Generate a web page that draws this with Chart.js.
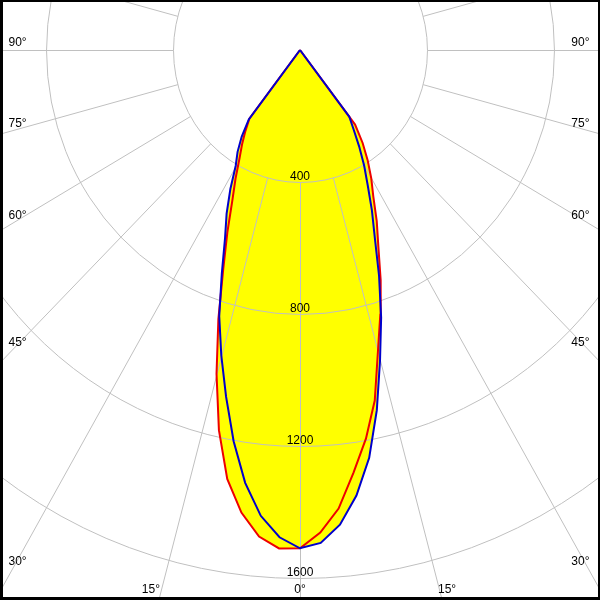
<!DOCTYPE html>
<html>
<head>
<meta charset="utf-8">
<script src="https://cdn.jsdelivr.net/npm/chart.js@4.4.0/dist/chart.umd.min.js"></script>
<style>
  body { margin: 0; background: #fff; }
  canvas { display: block; }
</style>
</head>
<body>
<canvas id="polar" width="600" height="600"></canvas>
<script>
// gamma angles in degrees, 0 = straight down
const gammaAngles = [0, 2.5, 5, 7.5, 10, 12.5, 15, 17.5, 20, 22.5, 25, 27.5, 30, 32.5, 35, 37.5, 40];

// C0-C180 plane (red), cd
const redLeft  = [1510, 1512, 1480, 1414, 1320, 1180, 1016, 855, 707, 598, 505, 440, 382, 340, 300, 262, 0];
const redRight = [1508, 1464, 1395, 1292, 1196, 1088, 948, 841, 743, 645, 572, 500, 449, 397, 344, 285, 0];

// C90-C270 plane (blue), cd
const blueLeft  = [1510, 1478, 1417, 1323, 1204, 1076, 958, 846, 720, 617, 547, 475, 405, 366, 320, 265, 0];
const blueRight = [1510, 1495, 1444, 1362, 1255, 1118, 974, 850, 728, 616, 536, 462, 404, 347, 295, 255, 0];

// grid
const ringValues = [400, 800, 1200, 1600];
const ringLabels = ['400', '800', '1200', '1600'];
const spokeAngles = [0, 15, 30, 45, 60, 75, 90];
const spokeStep = 15;

// visible range of the diagram (cd)
const X_HALF = 945;
const Y_TOP = 151.5;
const Y_BOTTOM = -1666.7;

const LABEL_FONT = '12px "Liberation Sans", Arial, sans-serif';

// polar -> cartesian, left half goes up from 40 to 0, right half back to 40
function planePoints(left, right) {
  let pts = [];
  for (let i = gammaAngles.length - 1; i >= 0; i--) {
    let a = gammaAngles[i] * Math.PI / 180;
    pts.push({x: -left[i] * Math.sin(a), y: -left[i] * Math.cos(a)});
  }
  for (let i = 1; i < gammaAngles.length; i++) {
    let a = gammaAngles[i] * Math.PI / 180;
    pts.push({x: right[i] * Math.sin(a), y: -right[i] * Math.cos(a)});
  }
  return pts;
}

function geometry(chart) {
  let x = chart.scales.x, y = chart.scales.y;
  let cx = x.getPixelForValue(0), cy = y.getPixelForValue(0);
  let kx = (x.getPixelForValue(1000) - cx) / 1000;
  let ky = (y.getPixelForValue(-1000) - cy) / 1000;
  return {cx, cy, kx, ky};
}

// rings and spokes, drawn over the yellow fill but under the curves
const gridPlugin = {
  id: 'polarGrid',
  beforeDatasetsDraw(chart) {
    let {ctx} = chart;
    let {cx, cy, kx, ky} = geometry(chart);
    ctx.save();
    ctx.translate(0.5, 0.5);
    ctx.strokeStyle = '#c0c0c0';
    ctx.lineWidth = 1;
    ringValues.forEach(r => {
      ctx.beginPath();
      ctx.ellipse(cx, cy, r * kx, r * ky, 0, 0, 2 * Math.PI);
      ctx.stroke();
    });
    for (let a = 0; a < 360; a += spokeStep) {
      let t = a * Math.PI / 180;
      let dx = Math.sin(t) * kx, dy = Math.cos(t) * ky;
      ctx.beginPath();
      ctx.moveTo(cx + ringValues[0] * dx, cy + ringValues[0] * dy);
      ctx.lineTo(cx + 4000 * dx, cy + 4000 * dy);
      ctx.stroke();
    }
    ctx.restore();
  }
};

const labelPlugin = {
  id: 'polarLabels',
  afterDatasetsDraw(chart) {
    let {ctx, chartArea} = chart;
    let {cx, cy, kx, ky} = geometry(chart);
    ctx.save();
    ctx.font = LABEL_FONT;
    ctx.fillStyle = '#000';
    ctx.textBaseline = 'alphabetic';

    // intensity values along the 0 line
    ctx.textAlign = 'center';
    ringValues.forEach((r, i) => {
      ctx.fillText(ringLabels[i], cx, cy + r * ky - 2);
    });

    // angle labels where the spokes leave the frame
    let bottom = chartArea.bottom - 3;
    spokeAngles.forEach(a => {
      let t = a * Math.PI / 180;
      let dx = Math.sin(t) * kx, dy = Math.cos(t) * ky;
      let txt = a + '°';
      if (a === 0) {
        ctx.textAlign = 'center';
        ctx.fillText(txt, cx, bottom - 4);
        return;
      }
      let off = dy > 0 ? (bottom - cy) / dy * dx : Infinity;
      if (off < cx - 3) {
        ctx.textAlign = 'right';
        ctx.fillText(txt, cx - off + 1, bottom - 4);
        ctx.textAlign = 'left';
        ctx.fillText(txt, cx + off - 3, bottom - 4);
      } else {
        let slope = dy / dx;
        let yy = cy + (cx - 8) * slope - (3.5 + 4 * slope);
        ctx.textAlign = 'left';
        ctx.fillText(txt, 8.5, yy);
        ctx.textAlign = 'right';
        ctx.fillText(txt, chartArea.right - 10.5, yy);
      }
    });
    ctx.restore();
  },
  afterDraw(chart) {
    let {ctx, width, height} = chart;
    ctx.save();
    ctx.fillStyle = '#000';
    ctx.fillRect(0, 0, width, 2);
    ctx.fillRect(0, 0, 3, height);
    ctx.fillRect(width - 2, 0, 2, height);
    ctx.fillRect(0, height - 3, width, 3);
    ctx.restore();
  }
};

new Chart(document.getElementById('polar'), {
  type: 'scatter',
  data: {
    datasets: [
      {
        label: 'C90-C270',
        data: planePoints(blueLeft, blueRight),
        showLine: true,
        borderColor: '#0000cc',
        borderWidth: 2,
        backgroundColor: '#ffff00',
        fill: 'shape'
      },
      {
        label: 'C0-C180',
        data: planePoints(redLeft, redRight),
        showLine: true,
        borderColor: '#ee0000',
        borderWidth: 2,
        backgroundColor: '#ffff00',
        fill: 'shape'
      }
    ]
  },
  options: {
    responsive: false,
    animation: false,
    layout: {padding: 0},
    elements: {point: {radius: 0}, line: {tension: 0}},
    scales: {
      x: {type: 'linear', min: -X_HALF, max: X_HALF, bounds: 'data', display: false},
      y: {type: 'linear', min: Y_BOTTOM, max: Y_TOP, bounds: 'data', display: false}
    },
    plugins: {
      legend: {display: false},
      tooltip: {enabled: false},
      filler: {drawTime: 'beforeDatasetsDraw'}
    }
  },
  plugins: [gridPlugin, labelPlugin]
});
</script>
</body>
</html>
